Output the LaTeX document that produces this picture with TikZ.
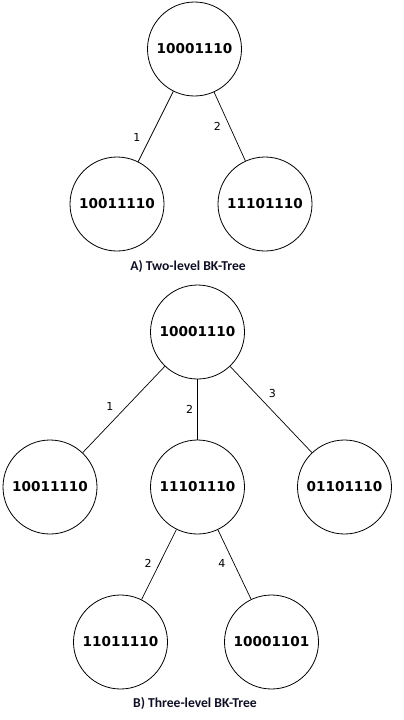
\documentclass[tikz,border=0pt]{standalone}
\usepackage{fontspec}
\usepackage{xcolor}
\newfontfamily\bitfont{DejaVu Sans}
\newfontfamily\capfont{Carlito}
\definecolor{capcolor}{rgb}{0.06,0.06,0.14}
\tikzset{
  bit/.style={circle, draw, line width=0.8pt, minimum size=94pt, inner sep=0pt, font=\bitfont\bfseries\fontsize{13.6}{15}\selectfont},
  dist/.style={inner sep=0pt, font=\bitfont\fontsize{11}{13}\selectfont},
  caption/.style={font=\capfont\bfseries\fontsize{13.6}{15}\selectfont, text=capcolor}
}
\begin{document}
\begin{tikzpicture}[x=1pt,y=-1pt,line width=0.7pt]
  \useasboundingbox (0,0) rectangle (404,720);
  % A) two levels
  \node[bit] (a0) at (194.5,49) {10001110};
  \node[bit] (a1) at (117,204) {10011110};
  \node[bit] (a2) at (265,204) {11101110};
  \draw (a0) -- (a1) node[pos=0.66, left=9.5pt, dist] {1};
  \draw (a0) -- (a2) node[pos=0.5, left=8.5pt, dist] {2};
  \node[caption] (capa) at (188,266) {A) Two-level BK-Tree};
  % B) three levels
  \node[bit] (b0) at (197.5,332) {10001110};
  \node[bit] (b1) at (50,487) {10011110};
  \node[bit] (b2) at (197.5,487) {11101110};
  \node[bit] (b3) at (344.5,487) {01101110};
  \node[bit] (b4) at (120.5,642) {11011110};
  \node[bit] (b5) at (271.5,642) {10001101};
  \draw (b0) -- (b1) node[pos=0.47, left=12.5pt, dist] {1};
  \draw (b0) -- (b2) node[pos=0.5, left=4pt, dist] {2};
  \draw (b0) -- (b3) node[pos=0.31, right=13pt, dist] {3};
  \draw (b2) -- (b4) node[pos=0.49, left=7.5pt, dist] {2};
  \draw (b2) -- (b5) node[pos=0.49, left=8.5pt, dist] {4};
  \node[caption] (capb) at (195,703) {B) Three-level BK-Tree};
\end{tikzpicture}
\end{document}
